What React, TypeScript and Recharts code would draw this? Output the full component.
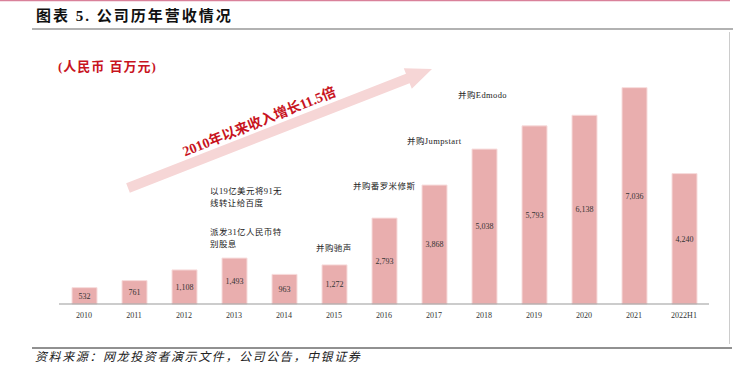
import { BarChart, Bar, XAxis, YAxis, LabelList } from 'recharts'

const years = ['2010', '2011', '2012', '2013', '2014', '2015', '2016', '2017', '2018', '2019', '2020', '2021', '2022H1']
const revenue = [532, 761, 1108, 1493, 963, 1272, 2793, 3868, 5038, 5793, 6138, 7036, 4240]

const notes = [
  { x: 210, y: 194, lines: ['以19亿美元将91无', '线转让给百度'] },
  { x: 210, y: 235, lines: ['派发31亿人民币特', '别股息'] },
  { x: 316, y: 251, lines: ['并购驰声'] },
  { x: 353, y: 189, lines: ['并购番罗米修斯'] },
  { x: 407, y: 144, lines: ['并购Jumpstart'] },
  { x: 458, y: 98, lines: ['并购Edmodo'] },
]

const data = years.map((y, i) => ({ year: y, value: revenue[i] }))

const serif = '"Liberation Serif", "Noto Sans CJK SC", serif'
const cjk = '"Liberation Serif", "Noto Sans CJK SC", sans-serif'

function Arrow() {
  // big pale arrow going up-right
  const x1 = 128, y1 = 188, x2 = 432, y2 = 69
  const dx = x2 - x1, dy = y2 - y1
  const len = Math.sqrt(dx * dx + dy * dy)
  const ux = dx / len, uy = dy / len
  const nx = -uy, ny = ux
  const shaft = 5, head = 11, headLen = 26
  const bx = x2 - ux * headLen, by = y2 - uy * headLen
  const pts = [
    [x1 + nx * shaft, y1 + ny * shaft],
    [bx + nx * shaft, by + ny * shaft],
    [bx + nx * head, by + ny * head],
    [x2, y2],
    [bx - nx * head, by - ny * head],
    [bx - nx * shaft, by - ny * shaft],
    [x1 - nx * shaft, y1 - ny * shaft],
  ]
  const angle = (Math.atan2(dy, dx) * 180) / Math.PI
  return (
    <g>
      <polygon points={pts.map(p => p.join(',')).join(' ')} fill="#f6d6d6" />
      <text
        x={261}
        y={126}
        transform={`rotate(${angle - 0.5} 261 126)`}
        textAnchor="middle"
        fontFamily={cjk}
        fontWeight="bold"
        fontSize={14}
        fill="#c8141e"
      >
        2010年以来收入增长11.5倍
      </text>
    </g>
  )
}

export default function App() {
  return (
    <div style={{ position: 'absolute', left: 0, top: 0, width: 742, height: 368, background: '#fff' }}>
      <BarChart
        width={742}
        height={368}
        data={data}
        margin={{ top: 58, right: 33, bottom: 34, left: 59 }}
      >
        <YAxis hide domain={[0, 8000]} />
        <XAxis
          dataKey="year"
          height={30}
          axisLine={{ stroke: '#999' }}
          tickLine={false}
          tick={{ fontSize: 8, fill: '#333', fontFamily: serif }}
          tickMargin={2}
          interval={0}
        />
        <Bar dataKey="value" barSize={25} fill="#e9aeae" stroke="#f7dcdc" strokeWidth={1} isAnimationActive={false}>
          <LabelList
            dataKey="value"
            position="center"
            fill="#333"
            fontSize={8}
            fontFamily={serif}
            formatter={(v: any) => Number(v).toLocaleString('en-US')}
          />
        </Bar>
      </BarChart>
      <svg width={742} height={368} style={{ position: 'absolute', left: 0, top: 0, pointerEvents: 'none' }}>
        <line x1={0} y1={0.5} x2={730} y2={0.5} stroke="#d9819a" strokeWidth={1.5} />
        <text x={36} y={21} fontFamily={cjk} fontWeight="bold" fontSize={15} letterSpacing={2} fill="#111">
          图表 5. 公司历年营收情况
        </text>
        <line x1={32} y1={29} x2={733} y2={29} stroke="#999" strokeWidth={1.5} />
        <line x1={729.5} y1={32} x2={729.5} y2={344} stroke="#ccc" strokeWidth={1} />
        <line x1={32} y1={348} x2={732} y2={348} stroke="#222" strokeWidth={1} />
        <text x={58} y={71} fontFamily={cjk} fontWeight="bold" fontSize={13} letterSpacing={1} fill="#c8141e">
          (人民币 百万元)
        </text>
        <Arrow />
        {notes.map((n, i) => (
          <text key={i} x={n.x} y={n.y} fontFamily={cjk} fontSize={8.5} letterSpacing={0.4} fill="#222">
            {n.lines.map((l, j) => (
              <tspan key={j} x={n.x} dy={j === 0 ? 0 : 12}>{l}</tspan>
            ))}
          </text>
        ))}
        <text x={35} y={361} fontFamily={cjk} fontStyle="italic" fontSize={12} letterSpacing={1.6} fill="#222">
          资料来源：网龙投资者演示文件，公司公告，中银证券
        </text>
      </svg>
    </div>
  )
}
